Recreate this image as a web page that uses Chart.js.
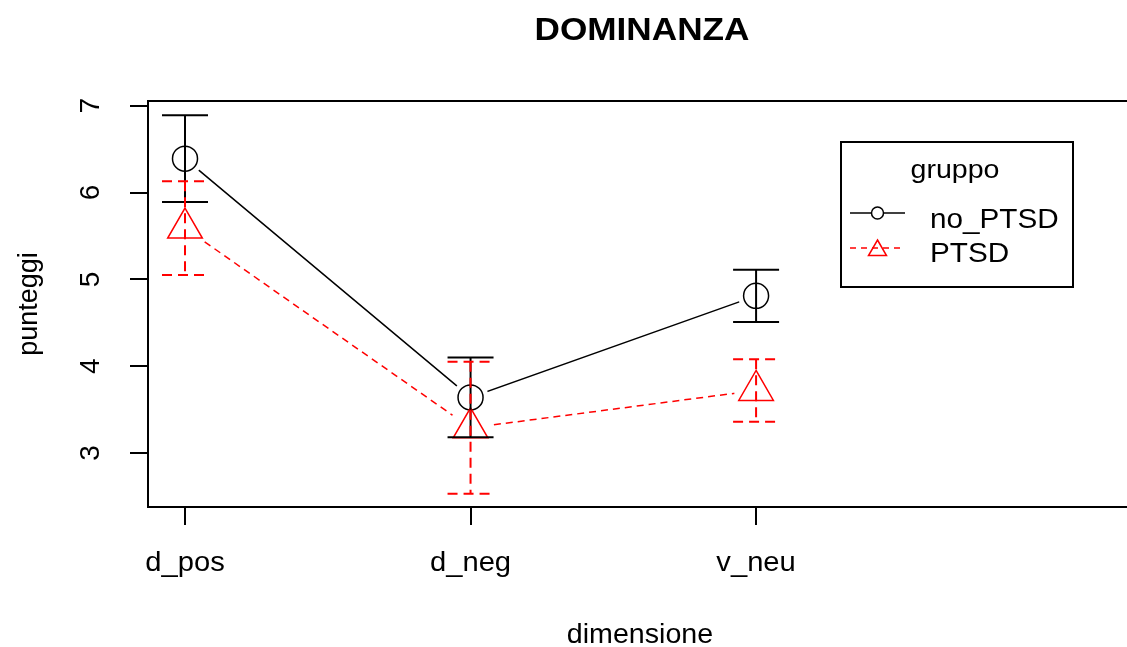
<!DOCTYPE html>
<html><head><meta charset="utf-8">
<script src="https://cdn.jsdelivr.net/npm/chart.js@4"></script>
<style>html,body{margin:0;padding:0;background:#fff}canvas{display:block}</style>
</head><body>
<canvas id="c" width="1127" height="647"></canvas>
<script>
const categories = ['d_pos', 'd_neg', 'v_neu'];
const noPTSD = [6.39, 3.64, 4.81];
const noPTSDerr = [0.50, 0.46, 0.30];
const PTSD = [5.59, 3.29, 3.72];
const PTSDerr = [0.54, 0.76, 0.36];
const yTicks = [3, 4, 5, 6, 7];
const seriesNames = ['no_PTSD', 'PTSD'];
const chartTitle = 'DOMINANZA';
const xTitle = 'dimensione';
const yTitle = 'punteggi';
const legendTitle = 'gruppo';

const FONT = '"Liberation Sans", Arial, sans-serif';
const RED = '#ff0000';
function pts(vals) { return vals.map((v, i) => ({ x: i, y: v })); }

function hText(ctx, txt, x, y, size, bold, align, sx) {
  ctx.save();
  ctx.font = (bold ? 'bold ' : '') + size + 'px ' + FONT;
  ctx.translate(x, y); ctx.scale(sx, 1);
  ctx.textAlign = align; ctx.textBaseline = 'alphabetic'; ctx.fillStyle = '#000';
  ctx.fillText(txt, 0, 0);
  ctx.restore();
}
function vText(ctx, txt, x, y, size) {
  ctx.save();
  ctx.font = size + 'px ' + FONT;
  ctx.translate(x, y); ctx.rotate(-Math.PI / 2);
  ctx.textAlign = 'center'; ctx.textBaseline = 'middle'; ctx.fillStyle = '#000';
  ctx.fillText(txt, 0, 0);
  ctx.restore();
}

const deco = {
  id: 'rdeco',
  beforeDraw(chart) {
    const ctx = chart.ctx;
    ctx.save(); ctx.fillStyle = '#fff'; ctx.fillRect(0, 0, chart.width, chart.height); ctx.restore();
  },
  afterDatasetsDraw(chart) {
    const ctx = chart.ctx, xs = chart.scales.x, ys = chart.scales.y;
    const drawErr = (means, errs, color, dash) => {
      ctx.save();
      ctx.strokeStyle = color; ctx.lineWidth = 2; ctx.setLineDash(dash);
      means.forEach((m, i) => {
        const x = xs.getPixelForValue(i);
        const yt = ys.getPixelForValue(m + errs[i]);
        const yb = ys.getPixelForValue(m - errs[i]);
        ctx.beginPath(); ctx.moveTo(x, yt); ctx.lineTo(x, yb); ctx.stroke();
        ctx.beginPath(); ctx.moveTo(x - 23, yt); ctx.lineTo(x + 23, yt); ctx.stroke();
        ctx.beginPath(); ctx.moveTo(x - 23, yb); ctx.lineTo(x + 23, yb); ctx.stroke();
      });
      ctx.restore();
    };
    drawErr(noPTSD, noPTSDerr, '#000', []);
    drawErr(PTSD, PTSDerr, RED, [10, 6]);
  },
  afterDraw(chart) {
    const ctx = chart.ctx, xs = chart.scales.x, ys = chart.scales.y, a = chart.chartArea;
    // top edge of plot box
    ctx.save(); ctx.strokeStyle = '#000'; ctx.lineWidth = 2;
    ctx.beginPath(); ctx.moveTo(a.left - 1, a.top); ctx.lineTo(a.right, a.top); ctx.stroke();
    ctx.restore();
    // title
    hText(ctx, chartTitle, 642, 40, 32, true, 'center', 1.1);
    // x tick labels
    categories.forEach((c, i) => hText(ctx, c, xs.getPixelForValue(i), 571, 27, false, 'center', 1.08));
    // y tick labels
    yTicks.forEach(v => vText(ctx, String(v), 91, ys.getPixelForValue(v), 28));
    // axis titles
    hText(ctx, xTitle, 640, 643, 27, false, 'center', 1.06);
    vText(ctx, yTitle, 30, 304, 27);
    // legend
    ctx.save();
    ctx.strokeStyle = '#000'; ctx.lineWidth = 2;
    ctx.strokeRect(841, 142, 232, 145);
    ctx.restore();
    hText(ctx, legendTitle, 955, 178, 26, false, 'center', 1.1);
    ctx.save();
    ctx.lineWidth = 1.5; ctx.strokeStyle = '#000';
    ctx.beginPath(); ctx.moveTo(850, 213); ctx.lineTo(905, 213); ctx.stroke();
    ctx.fillStyle = '#fff';
    ctx.beginPath(); ctx.arc(877.5, 213, 6, 0, Math.PI * 2); ctx.fill(); ctx.stroke();
    ctx.strokeStyle = RED; ctx.setLineDash([6, 5]);
    ctx.beginPath(); ctx.moveTo(850, 248); ctx.lineTo(905, 248); ctx.stroke();
    ctx.setLineDash([]);
    ctx.beginPath(); ctx.moveTo(877.5, 240); ctx.lineTo(886.5, 255.5); ctx.lineTo(868.5, 255.5); ctx.closePath(); ctx.stroke();
    ctx.restore();
    hText(ctx, seriesNames[0], 930, 228, 27, false, 'left', 1.1);
    hText(ctx, seriesNames[1], 930, 262, 27, false, 'left', 1.1);
  }
};

const axisCommon = {
  type: 'linear',
  ticks: { display: false },
  grid: { display: true, drawOnChartArea: false, drawTicks: true, tickLength: 18, color: '#000', lineWidth: 2 },
  border: { display: true, color: '#000', width: 2 }
};

new Chart(document.getElementById('c'), {
  type: 'scatter',
  data: {
    datasets: [
      { label: seriesNames[0], data: pts(noPTSD), showLine: true, borderColor: '#000', borderWidth: 1.5,
        pointRadius: 18, pointStyle: 'circle', pointBackgroundColor: '#fff', pointBorderWidth: 0, pointBorderColor: 'rgba(0,0,0,0)', order: 3 },
      { label: seriesNames[1], data: pts(PTSD), showLine: true, borderColor: RED, borderWidth: 1.5, borderDash: [7, 5],
        pointRadius: 22, pointStyle: 'circle', pointBackgroundColor: '#fff', pointBorderWidth: 0, pointBorderColor: 'rgba(0,0,0,0)', order: 2 },
      { label: seriesNames[0] + ' pts', data: pts(noPTSD), showLine: false,
        pointRadius: 12.5, pointStyle: 'circle', pointBackgroundColor: 'rgba(0,0,0,0)', pointBorderColor: '#000', pointBorderWidth: 1.5, order: 1 },
      { label: seriesNames[1] + ' pts', data: pts(PTSD), showLine: false,
        pointRadius: 20, pointStyle: 'triangle', pointBackgroundColor: 'rgba(0,0,0,0)', pointBorderColor: RED, pointBorderWidth: 1.5, order: 0 }
    ]
  },
  options: {
    responsive: false, animation: false, devicePixelRatio: 1,
    layout: { autoPadding: false, padding: { top: 101, left: 0, right: 0, bottom: 0 } },
    plugins: { legend: { display: false }, tooltip: { enabled: false }, title: { display: false } },
    events: [],
    scales: {
      x: Object.assign({}, axisCommon, {
        min: -0.1296, max: 3.299,
        afterBuildTicks: s => { s.ticks = [0, 1, 2].map(v => ({ value: v })); },
        afterFit: s => { s.height = 140; }
      }),
      y: Object.assign({}, axisCommon, {
        min: 2.378, max: 7.054,
        afterBuildTicks: s => { s.ticks = yTicks.map(v => ({ value: v })); },
        afterFit: s => { s.width = 148; }
      })
    }
  },
  plugins: [deco]
});
</script>
</body></html>
